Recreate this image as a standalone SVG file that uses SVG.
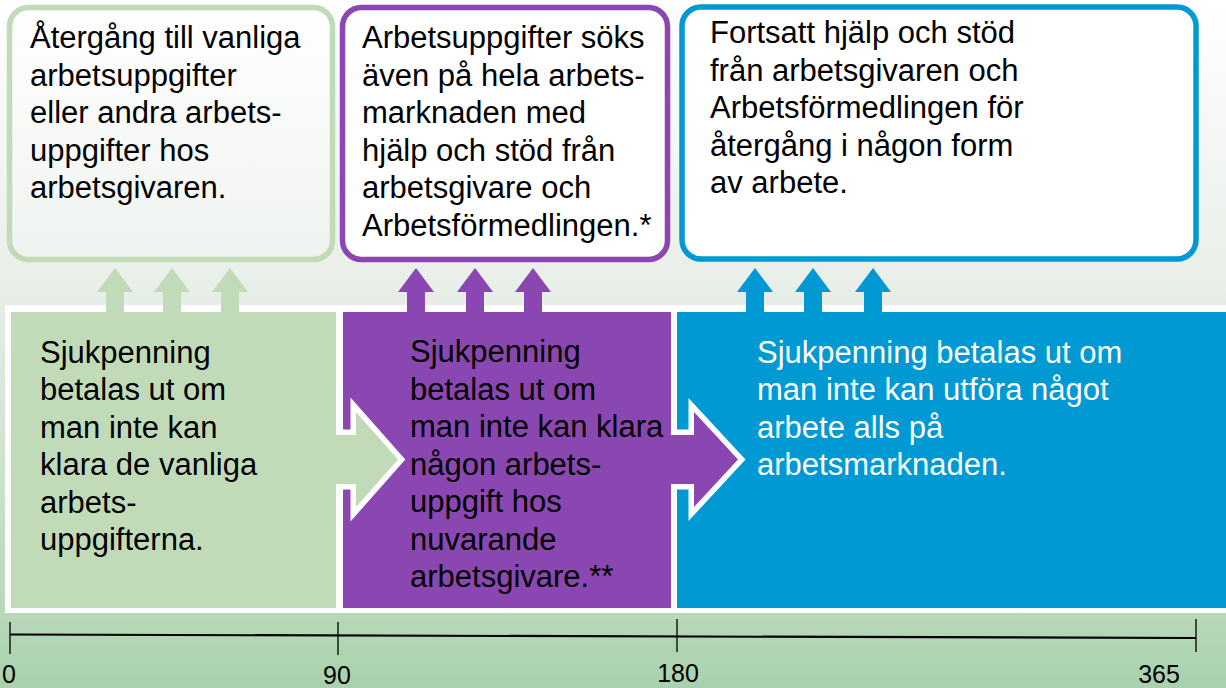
<svg xmlns="http://www.w3.org/2000/svg" width="1226" height="688" viewBox="0 0 1226 688">
  <defs>
    <linearGradient id="bg" x1="0" y1="0" x2="0" y2="1">
      <stop offset="0" stop-color="#ffffff"/>
      <stop offset="0.42" stop-color="#e8eee8"/>
      <stop offset="0.89" stop-color="#b8d8b8"/>
      <stop offset="1" stop-color="#a9d1ae"/>
    </linearGradient>
    <linearGradient id="boxfill" x1="0" y1="0" x2="0" y2="1">
      <stop offset="0" stop-color="#ffffff"/>
      <stop offset="1" stop-color="#eff3ef"/>
    </linearGradient>
    <style>
      text { font-family: "Liberation Sans", Arial, sans-serif; font-size: 31px; fill: #000; }
      .w { fill: #ffffff; }
      .tick { font-size: 25px; text-anchor: middle; }
      .green { fill: #c1dbb9; }
      .purple { fill: #8a46b1; }
      .blue { fill: #0099d3; }
      .box { stroke-width: 5.5; }
      .outline { fill: none; stroke: #ffffff; stroke-width: 11; stroke-linejoin: miter; stroke-linecap: butt; }
      .axis { stroke: #000; fill: none; }
    </style>
  </defs>

  <rect x="0" y="0" width="1226" height="688" fill="url(#bg)"/>

  <!-- top boxes -->
  <g id="box-green">
    <rect class="box" x="9.5" y="7.5" width="323" height="252" rx="19" fill="url(#boxfill)" stroke="#c1dbb9"/>
    <text x="30" y="48">Återgång till vanliga</text>
    <text x="30" y="86">arbetsuppgifter</text>
    <text x="30" y="123">eller andra arbets-</text>
    <text x="30" y="161">uppgifter hos</text>
    <text x="30" y="198">arbetsgivaren.</text>
  </g>
  <g id="box-purple">
    <rect class="box" x="342.5" y="7.5" width="325" height="252" rx="19" fill="#ffffff" stroke="#8a46b1"/>
    <text x="362" y="48">Arbetsuppgifter söks</text>
    <text x="362" y="86">även på hela arbets-</text>
    <text x="362" y="123">marknaden med</text>
    <text x="362" y="161">hjälp och stöd från</text>
    <text x="362" y="198">arbetsgivare och</text>
    <text x="362" y="236">Arbetsförmedlingen.*</text>
  </g>
  <g id="box-blue">
    <rect class="box" x="682" y="7" width="514" height="252" rx="19" fill="#ffffff" stroke="#0099d3"/>
    <text x="710" y="43">Fortsatt hjälp och stöd</text>
    <text x="710" y="81">från arbetsgivaren och</text>
    <text x="710" y="118">Arbetsförmedlingen för</text>
    <text x="710" y="156">återgång i någon form</text>
    <text x="710" y="193">av arbete.</text>
  </g>

  <!-- white frame behind blocks -->
  <rect x="5" y="305" width="1221" height="308" fill="#ffffff"/>

  <g id="phase-0-90">
    <rect class="green" x="11" y="312" width="325" height="296"/>
    <text x="40" y="363">Sjukpenning</text>
    <text x="40" y="400">betalas ut om</text>
    <text x="40" y="438">man inte kan</text>
    <text x="40" y="475">klara de vanliga</text>
    <text x="40" y="513">arbets-</text>
    <text x="40" y="550">uppgifterna.</text>
  </g>
  <g id="phase-90-180">
    <rect class="purple" x="343" y="312" width="328" height="296"/>
    <text x="410" y="362">Sjukpenning</text>
    <text x="410" y="400">betalas ut om</text>
    <text x="410" y="437">man inte kan klara</text>
    <text x="410" y="475">någon arbets-</text>
    <text x="410" y="512">uppgift hos</text>
    <text x="410" y="550">nuvarande</text>
    <text x="410" y="587">arbetsgivare.**</text>
  </g>
  <g id="phase-180-365">
    <rect class="blue" x="677" y="312" width="549" height="296"/>
    <text class="w" x="757" y="363">Sjukpenning betalas ut om</text>
    <text class="w" x="757" y="400">man inte kan utföra något</text>
    <text class="w" x="757" y="438">arbete alls på</text>
    <text class="w" x="757" y="475">arbetsmarknaden.</text>
  </g>

  <g id="connectors">
    <!-- right chevrons -->
    <path class="outline" d="M336,435 L356,435 L356,412 L398,459.5 L356,507 L356,484 L336,484"/>
    <path class="green" d="M330,435 L356,435 L356,412 L398,459.5 L356,507 L356,484 L330,484 Z"/>
    <path class="outline" d="M671,435 L694,435 L694,412 L738,459.5 L694,507 L694,484 L671,484"/>
    <path class="purple" d="M665,435 L694,435 L694,412 L738,459.5 L694,507 L694,484 L665,484 Z"/>
    <!-- up arrows green -->
    <path class="green" d="M106,314 L106,292 L97,292 L115,268 L133,292 L124,292 L124,314 Z"/>
    <path class="green" d="M163,314 L163,292 L154,292 L172,268 L190,292 L181,292 L181,314 Z"/>
    <path class="green" d="M221,314 L221,292 L212,292 L230,268 L248,292 L239,292 L239,314 Z"/>
    <!-- up arrows purple -->
    <path class="purple" d="M407,314 L407,292 L398,292 L416,268 L434,292 L425,292 L425,314 Z"/>
    <path class="purple" d="M466,314 L466,292 L457,292 L475,268 L493,292 L484,292 L484,314 Z"/>
    <path class="purple" d="M524,314 L524,292 L515,292 L533,268 L551,292 L542,292 L542,314 Z"/>
    <!-- up arrows blue -->
    <path class="blue" d="M746,314 L746,292 L737,292 L755,268 L773,292 L764,292 L764,314 Z"/>
    <path class="blue" d="M804,314 L804,292 L795,292 L813,268 L831,292 L822,292 L822,314 Z"/>
    <path class="blue" d="M864,314 L864,292 L855,292 L873,268 L891,292 L882,292 L882,314 Z"/>
  </g>

  <g id="timeline">
    <path class="axis" stroke-width="2.2" d="M10,634.5 L1196,638"/>
    <path class="axis" stroke-width="1.3" d="M10,622 V654 M338,622 V655 M677,619 V652 M1196,619 V652"/>
    <text class="tick" x="9" y="683">0</text>
    <text class="tick" x="337" y="684">90</text>
    <text class="tick" x="678" y="682">180</text>
    <text class="tick" x="1159" y="683">365</text>
  </g>
</svg>
